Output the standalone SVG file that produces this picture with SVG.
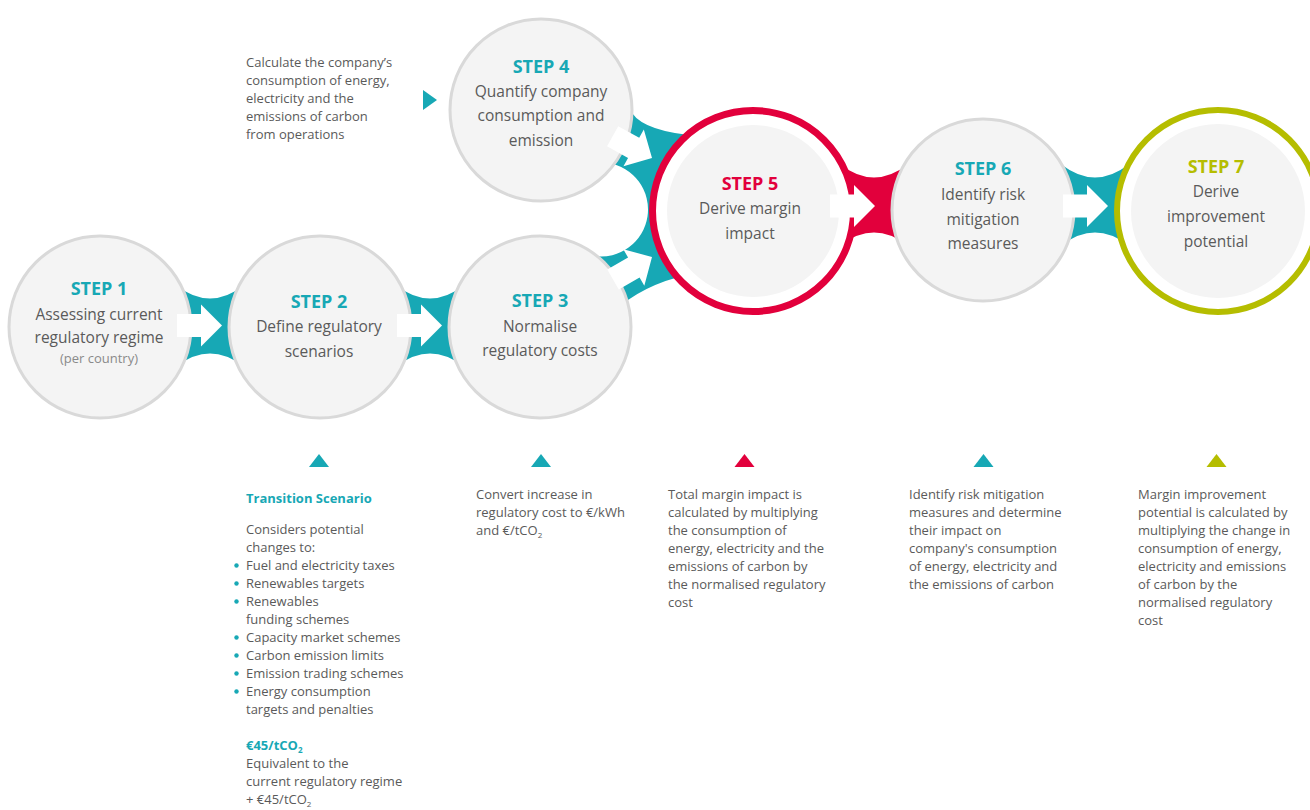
<svg xmlns="http://www.w3.org/2000/svg" xmlns:xlink="http://www.w3.org/1999/xlink" width="1310" height="810" viewBox="0 0 1310 810">
<style>
text{font-family:"Open Sans","Noto Sans","Liberation Sans",sans-serif;fill:#5a5a5a}
.step{font-size:18px;font-weight:700;text-anchor:middle}
.teal{fill:#17a8b5}
.red{fill:#e2003c}
.olive{fill:#b5bd00}
.lbl{font-size:15.5px;text-anchor:middle}
.small{font-size:13px;fill:#8a8a8a;text-anchor:middle}
.body{font-size:13px}
.bold{font-weight:700}
.sub{font-size:8px}
.node{fill:#f4f4f4;stroke:#d9d9d9;stroke-width:3}
.inner{fill:#f4f4f4}
.arrow{fill:#ffffff}
</style>
<defs>
<polygon id="arr" points="0,0 -21,-21 -21,-11.5 -45,-11.5 -45,11.5 -21,11.5 -21,21"/>
<polygon id="tri" points="-10,13 0,0 10,13"/>
</defs>
<rect width="1310" height="810" fill="#ffffff"/>

<g id="connectors">
<path class="teal" d="M 177,286 Q 210,311 243,286 L 243,366 Q 210,341 177,366 Z"/>
<path class="teal" d="M 397,286 Q 430,311 463,286 L 463,366 Q 430,341 397,366 Z"/>
<path class="teal" d="M 600,100 L 632,113 Q 645,132 700,136 L 702,272 Q 652,280 620,306 L 594,256 A 45 45 0 0 0 608,163 Z"/>
<path class="red" d="M 841,165 Q 874,190 907,165 L 907,245 Q 874,220 841,245 Z"/>
<path class="teal" d="M 1062,165 Q 1095,190 1128,165 L 1128,245 Q 1095,220 1062,245 Z"/>
</g>

<g id="step1">
<circle class="node" cx="100" cy="327" r="91"/>
<text class="step teal" x="99" y="294.5">STEP 1</text>
<text class="lbl" x="99" y="319.5">Assessing current</text>
<text class="lbl" x="99" y="342.5">regulatory regime</text>
<text class="small" x="99" y="363">(per country)</text>
</g>

<g id="step2">
<circle class="node" cx="320" cy="327" r="91"/>
<text class="step teal" x="319" y="307.5">STEP 2</text>
<text class="lbl" x="319" y="331.5">Define regulatory</text>
<text class="lbl" x="319" y="356.5">scenarios</text>
</g>

<g id="step3">
<circle class="node" cx="540" cy="327" r="91"/>
<text class="step teal" x="540" y="306.5">STEP 3</text>
<text class="lbl" x="540" y="331.5">Normalise</text>
<text class="lbl" x="540" y="355.5">regulatory costs</text>
</g>

<g id="step4">
<circle class="node" cx="541" cy="110" r="91"/>
<text class="step teal" x="541" y="72.5">STEP 4</text>
<text class="lbl" x="541" y="96.5">Quantify company</text>
<text class="lbl" x="541" y="120.5">consumption and</text>
<text class="lbl" x="541" y="145.5">emission</text>
</g>

<g id="step5">
<circle cx="753" cy="211" r="100.5" fill="#ffffff" stroke="#e2003c" stroke-width="7"/>
<circle class="inner" cx="753" cy="211" r="86"/>
<text class="step red" x="750" y="189.5">STEP 5</text>
<text class="lbl" x="750" y="213.5">Derive margin</text>
<text class="lbl" x="750" y="238.5">impact</text>
</g>

<g id="step6">
<circle class="node" cx="983" cy="210" r="91"/>
<text class="step teal" x="983" y="174.5">STEP 6</text>
<text class="lbl" x="983" y="199.5">Identify risk</text>
<text class="lbl" x="983" y="224.5">mitigation</text>
<text class="lbl" x="983" y="248.5">measures</text>
</g>

<g id="step7">
<circle cx="1218" cy="211" r="101" fill="#ffffff" stroke="#b5bd00" stroke-width="6"/>
<circle class="inner" cx="1218" cy="211" r="87"/>
<text class="step olive" x="1216" y="172.5">STEP 7</text>
<text class="lbl" x="1216" y="196.5">Derive</text>
<text class="lbl" x="1216" y="221.5">improvement</text>
<text class="lbl" x="1216" y="246.5">potential</text>
</g>

<g id="connector-arrows" class="arrow">
<use xlink:href="#arr" transform="translate(222,325.5)"/>
<use xlink:href="#arr" transform="translate(442,325.5)"/>
<use xlink:href="#arr" transform="translate(652,158) rotate(29)"/>
<use xlink:href="#arr" transform="translate(652,257) rotate(-30)"/>
<use xlink:href="#arr" transform="translate(875,206)"/>
<use xlink:href="#arr" transform="translate(1108,206)"/>
</g>

<g id="note-step4">
<text class="body" x="246" y="66.5">Calculate the company’s</text>
<text class="body" x="246" y="84.5">consumption of energy,</text>
<text class="body" x="246" y="102.5">electricity and the</text>
<text class="body" x="246" y="120.5">emissions of carbon</text>
<text class="body" x="246" y="138.5">from operations</text>
<polygon class="teal" points="423,90 437,100 423,110"/>
</g>

<g id="markers">
<use xlink:href="#tri" class="teal" transform="translate(319,454)"/>
<use xlink:href="#tri" class="teal" transform="translate(541,454)"/>
<use xlink:href="#tri" class="red" transform="translate(744.5,454)"/>
<use xlink:href="#tri" class="teal" transform="translate(983.5,454)"/>
<use xlink:href="#tri" class="olive" transform="translate(1216.5,454)"/>
</g>

<g id="note-step2">
<text class="body bold teal" x="246" y="502.5">Transition Scenario</text>
<text class="body" x="246" y="533.5">Considers potential</text>
<text class="body" x="246" y="551.5">changes to:</text>
<text class="body" x="246" y="569.5">Fuel and electricity taxes</text>
<text class="body" x="246" y="587.5">Renewables targets</text>
<text class="body" x="246" y="605.5">Renewables</text>
<text class="body" x="246" y="623.5">funding schemes</text>
<text class="body" x="246" y="641.5">Capacity market schemes</text>
<text class="body" x="246" y="659.5">Carbon emission limits</text>
<text class="body" x="246" y="677.5">Emission trading schemes</text>
<text class="body" x="246" y="695.5">Energy consumption</text>
<text class="body" x="246" y="713.5">targets and penalties</text>
<g class="teal">
<circle cx="236.5" cy="565.5" r="2.2"/>
<circle cx="236.5" cy="583.5" r="2.2"/>
<circle cx="236.5" cy="601.5" r="2.2"/>
<circle cx="236.5" cy="637.5" r="2.2"/>
<circle cx="236.5" cy="655.5" r="2.2"/>
<circle cx="236.5" cy="673.5" r="2.2"/>
<circle cx="236.5" cy="691.5" r="2.2"/>
</g>
<text class="body bold teal" x="246" y="749.5">€45/tCO<tspan class="sub" dy="3">2</tspan></text>
<text class="body" x="246" y="767.5">Equivalent to the</text>
<text class="body" x="246" y="785.5">current regulatory regime</text>
<text class="body" x="246" y="803.5">+ €45/tCO<tspan class="sub" dy="3">2</tspan></text>
</g>

<g id="note-step3">
<text class="body" x="476" y="498.5">Convert increase in</text>
<text class="body" x="476" y="516.5">regulatory cost to €/kWh</text>
<text class="body" x="476" y="534.5">and €/tCO<tspan class="sub" dy="3">2</tspan></text>
</g>

<g id="note-step5">
<text class="body" x="668" y="498.5">Total margin impact is</text>
<text class="body" x="668" y="516.5">calculated by multiplying</text>
<text class="body" x="668" y="534.5">the consumption of</text>
<text class="body" x="668" y="552.5">energy, electricity and the</text>
<text class="body" x="668" y="570.5">emissions of carbon by</text>
<text class="body" x="668" y="588.5">the normalised regulatory</text>
<text class="body" x="668" y="606.5">cost</text>
</g>

<g id="note-step6">
<text class="body" x="909" y="498.5">Identify risk mitigation</text>
<text class="body" x="909" y="516.5">measures and determine</text>
<text class="body" x="909" y="534.5">their impact on</text>
<text class="body" x="909" y="552.5">company's consumption</text>
<text class="body" x="909" y="570.5">of energy, electricity and</text>
<text class="body" x="909" y="588.5">the emissions of carbon</text>
</g>

<g id="note-step7">
<text class="body" x="1138" y="498.5">Margin improvement</text>
<text class="body" x="1138" y="516.5">potential is calculated by</text>
<text class="body" x="1138" y="534.5">multiplying the change in</text>
<text class="body" x="1138" y="552.5">consumption of energy,</text>
<text class="body" x="1138" y="570.5">electricity and emissions</text>
<text class="body" x="1138" y="588.5">of carbon by the</text>
<text class="body" x="1138" y="606.5">normalised regulatory</text>
<text class="body" x="1138" y="624.5">cost</text>
</g>
</svg>
